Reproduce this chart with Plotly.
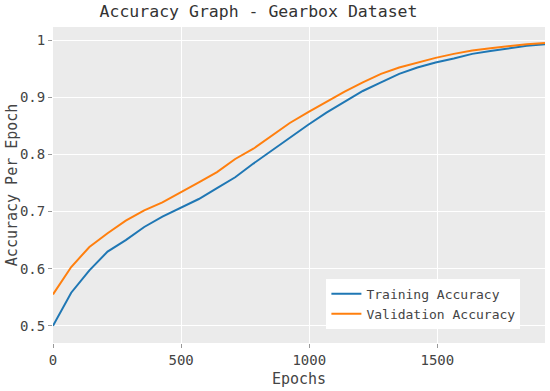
import plotly.graph_objects as go

# Epochs at which accuracy was recorded
epochs = [0, 71, 142, 213, 284, 356, 427, 498, 569, 640, 711, 782, 853, 924,
          996, 1067, 1138, 1209, 1280, 1351, 1422, 1493, 1564, 1636, 1707,
          1778, 1849, 1920]

train_acc = [0.500, 0.558, 0.597, 0.630, 0.650, 0.673, 0.691, 0.706, 0.722,
             0.741, 0.760, 0.784, 0.807, 0.830, 0.852, 0.873, 0.892, 0.911,
             0.926, 0.941, 0.952, 0.961, 0.968, 0.976, 0.981, 0.986, 0.990,
             0.993]

val_acc = [0.555, 0.603, 0.638, 0.662, 0.684, 0.702, 0.716, 0.733, 0.751,
           0.769, 0.792, 0.810, 0.833, 0.855, 0.874, 0.892, 0.910, 0.926,
           0.941, 0.952, 0.961, 0.969, 0.976, 0.982, 0.986, 0.990, 0.993,
           0.995]

FONT = "DejaVu Sans Mono"

fig = go.Figure()
fig.add_trace(go.Scatter(x=epochs, y=train_acc, mode="lines",
                         name="Training Accuracy",
                         line=dict(color="#1f77b4", width=2)))
fig.add_trace(go.Scatter(x=epochs, y=val_acc, mode="lines",
                         name="Validation Accuracy",
                         line=dict(color="#ff7f0e", width=2)))

fig.update_layout(
    width=550, height=391,
    autosize=False,
    margin=dict(l=53, r=5, t=27, b=48, autoexpand=False),
    paper_bgcolor="white",
    plot_bgcolor="#ebebeb",
    font=dict(family=FONT, size=14, color="#444"),
    title=dict(text="Accuracy Graph - Gearbox Dataset", x=0.47, xanchor="center",
               y=0.985, yanchor="top", automargin=False,
               font=dict(family=FONT, size=16.5, color="#333")),
    legend=dict(x=0.95, y=0.045, xanchor="right", yanchor="bottom",
                itemwidth=30,
                bgcolor="white", font=dict(family=FONT, size=13, color="#444")),
)
fig.update_xaxes(title=dict(text="Epochs", font=dict(size=15, color="#444"), standoff=6),
                 range=[0, 1920], tickvals=[0, 500, 1000, 1500], automargin=True,
                 showgrid=True, gridcolor="white", gridwidth=1,
                 zeroline=False, ticks="outside", ticklen=4, tickcolor="#999",
                 showline=False)
fig.update_yaxes(range=[0.47, 1.023], dtick=0.1, tick0=0.5,
                 showgrid=True, gridcolor="white", gridwidth=1,
                 zeroline=False, ticks="outside", ticklen=4, tickcolor="#999",
                 showline=False)

# y axis title as an annotation so it sits clear of the tick labels
fig.add_annotation(text="Accuracy Per Epoch", textangle=-90,
                   xref="paper", yref="paper", x=-0.083, y=0.5,
                   xanchor="center", yanchor="middle", showarrow=False,
                   font=dict(family=FONT, size=15, color="#444"))

# drop the default body margin so the figure fills the window
fig.write_html("out.html", config={"displayModeBar": False},
               post_script="document.body.style.margin='0';")
